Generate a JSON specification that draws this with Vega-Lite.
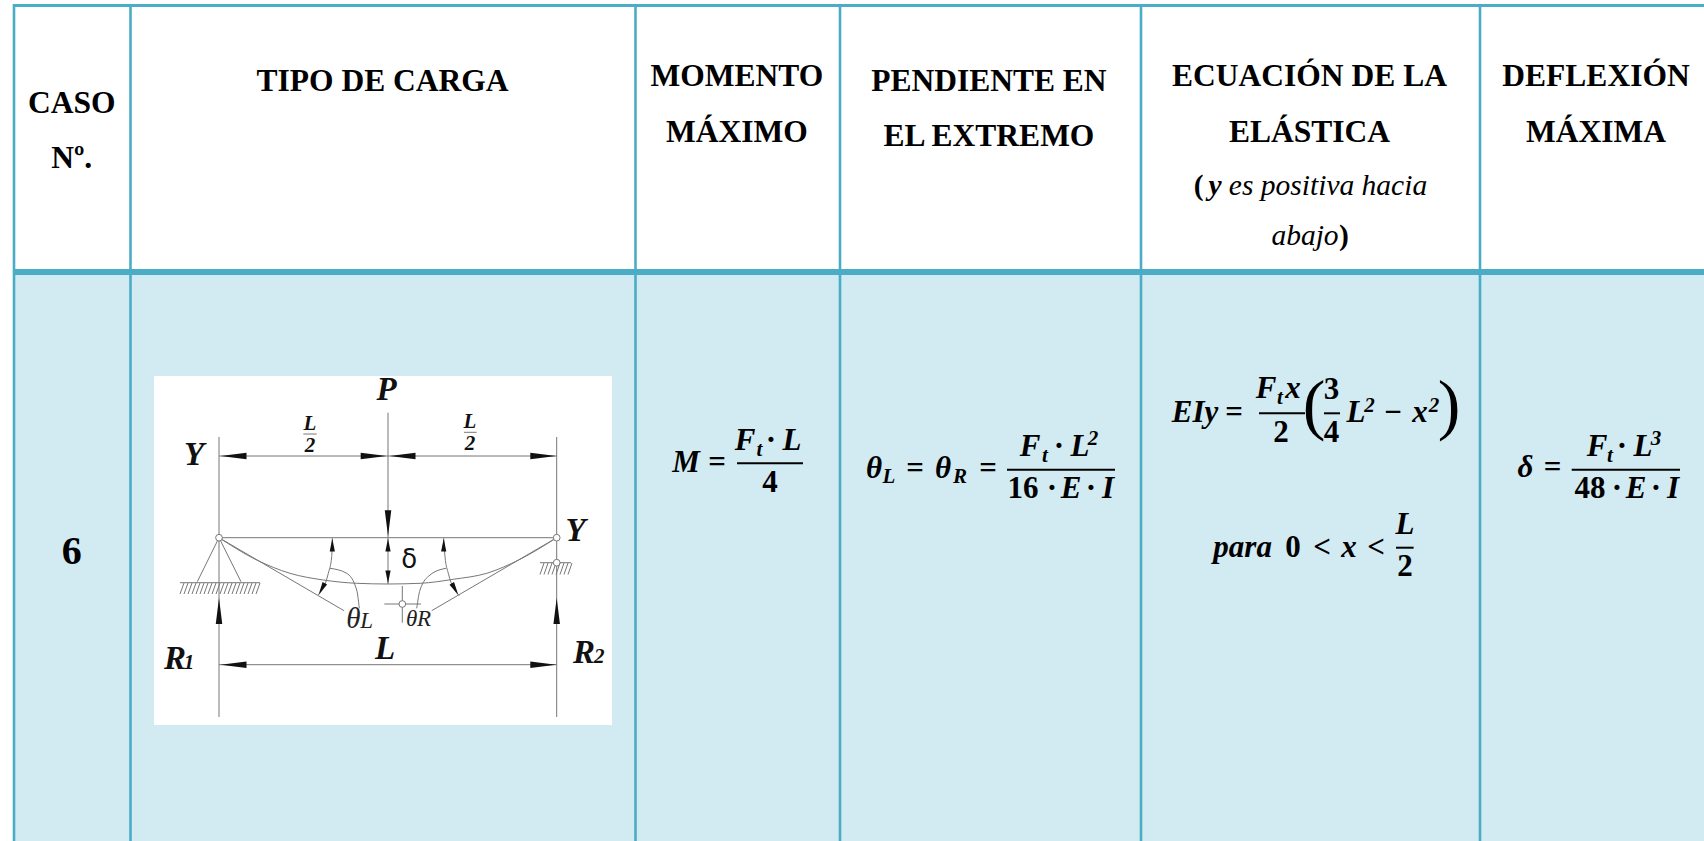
{"$schema":"https://vega.github.io/schema/vega-lite/v6.json","width":1704,"height":841,"padding":0,"autosize":{"type":"none"},"background":"white","config":{"view":{"stroke":null}},
"datasets":{
"fills":[{"k":"row","x":14,"x2":1704,"y":273,"y2":841},{"k":"img","x":154,"x2":612,"y":376,"y2":725}],
"grid":[
{"k":"v","x":14,"x2":14,"y":4,"y2":841},{"k":"v","x":130.5,"x2":130.5,"y":4,"y2":841},{"k":"v","x":635.5,"x2":635.5,"y":4,"y2":841},{"k":"v","x":840,"x2":840,"y":4,"y2":841},{"k":"v","x":1141,"x2":1141,"y":4,"y2":841},{"k":"v","x":1480,"x2":1480,"y":4,"y2":841},
{"k":"top","x":13,"x2":1704,"y":5.5,"y2":5.5},{"k":"head","x":13,"x2":1704,"y":272,"y2":272}],
"lines":[
{"x":219,"x2":219,"y":437,"y2":717},{"x":556.7,"x2":556.7,"y":437,"y2":717},{"x":388,"x2":388,"y":412.7,"y2":584},
{"x":219,"x2":556.7,"y":456,"y2":456},{"x":219,"x2":556.7,"y":537.7,"y2":537.7},{"x":219,"x2":556.7,"y":664.7,"y2":664.7},
{"x":219,"x2":344,"y":537.7,"y2":610.7},{"x":556.7,"x2":431.7,"y":537.7,"y2":610.7},
{"x":219,"x2":197.3,"y":537.7,"y2":581.7},{"x":219,"x2":241,"y":537.7,"y2":581.7},
{"x":180,"x2":260,"y":582.7,"y2":582.7},{"x":540,"x2":571,"y":562.7,"y2":562.7},
{"x":384.3,"x2":421,"y":604,"y2":604},{"x":402.3,"x2":402.3,"y":586,"y2":622.7},
{"x":303.3,"x2":316.7,"y":434,"y2":434},{"x":464,"x2":476.7,"y":432.3,"y2":432.3},
{"x":184,"x2":180,"y":583,"y2":594},{"x":188,"x2":184,"y":583,"y2":594},{"x":192,"x2":188,"y":583,"y2":594},{"x":196,"x2":192,"y":583,"y2":594},{"x":200,"x2":196,"y":583,"y2":594},{"x":204,"x2":200,"y":583,"y2":594},{"x":208,"x2":204,"y":583,"y2":594},{"x":212,"x2":208,"y":583,"y2":594},{"x":216,"x2":212,"y":583,"y2":594},{"x":220,"x2":216,"y":583,"y2":594},{"x":224,"x2":220,"y":583,"y2":594},{"x":228,"x2":224,"y":583,"y2":594},{"x":232,"x2":228,"y":583,"y2":594},{"x":236,"x2":232,"y":583,"y2":594},{"x":240,"x2":236,"y":583,"y2":594},{"x":244,"x2":240,"y":583,"y2":594},{"x":248,"x2":244,"y":583,"y2":594},{"x":252,"x2":248,"y":583,"y2":594},{"x":256,"x2":252,"y":583,"y2":594},{"x":260,"x2":256,"y":583,"y2":594},
{"x":544,"x2":540,"y":563,"y2":574.5},{"x":548,"x2":544,"y":563,"y2":574.5},{"x":552,"x2":548,"y":563,"y2":574.5},{"x":556,"x2":552,"y":563,"y2":574.5},{"x":560,"x2":556,"y":563,"y2":574.5},{"x":564,"x2":560,"y":563,"y2":574.5},{"x":568,"x2":564,"y":563,"y2":574.5},{"x":572,"x2":568,"y":563,"y2":574.5}],
"bars":[
{"x":737,"x2":803,"y":463.3,"y2":463.3},{"x":1007,"x2":1115,"y":469.7,"y2":469.7},{"x":1259,"x2":1305,"y":413.3,"y2":413.3},{"x":1324,"x2":1340,"y":413.3,"y2":413.3},{"x":1396,"x2":1413.6,"y":547.7,"y2":547.7},{"x":1571.7,"x2":1680,"y":469.7,"y2":469.7}],
"curves":[
{"id":"c","i":0,"x":219,"y":537.7},{"id":"c","i":1,"x":256.7,"y":560},{"id":"c","i":2,"x":290,"y":573.3},{"id":"c","i":3,"x":323.3,"y":580},{"id":"c","i":4,"x":356.7,"y":583.3},{"id":"c","i":5,"x":388,"y":584},{"id":"c","i":6,"x":420,"y":583.3},{"id":"c","i":7,"x":453.3,"y":579.3},{"id":"c","i":8,"x":486.7,"y":573.3},{"id":"c","i":9,"x":520,"y":559.3},{"id":"c","i":10,"x":556.7,"y":537.7},
{"id":"al","i":0,"x":332.3,"y":538.3},{"id":"al","i":1,"x":331.7,"y":556.7},{"id":"al","i":2,"x":328.3,"y":573.3},{"id":"al","i":3,"x":318.3,"y":595},
{"id":"ar","i":0,"x":443.7,"y":538.3},{"id":"ar","i":1,"x":445,"y":556.7},{"id":"ar","i":2,"x":448.3,"y":573.3},{"id":"ar","i":3,"x":459.3,"y":595.7},
{"id":"ll","i":0,"x":330,"y":568.3},{"id":"ll","i":1,"x":346.7,"y":573.3},{"id":"ll","i":2,"x":356.7,"y":590},{"id":"ll","i":3,"x":359.3,"y":608.3},
{"id":"lr","i":0,"x":446,"y":568.3},{"id":"lr","i":1,"x":430,"y":575},{"id":"lr","i":2,"x":420,"y":590},{"id":"lr","i":3,"x":416.7,"y":608.3}],
"arrows":[
{"k":"long","x":233.5,"y":456,"dir":270},{"k":"long","x":373.7,"y":456,"dir":90},{"k":"long","x":402.5,"y":456,"dir":270},{"k":"long","x":543.3,"y":456,"dir":90},
{"k":"long","x":233.5,"y":664.7,"dir":270},{"k":"long","x":543.3,"y":664.7,"dir":90},
{"k":"long","x":388,"y":523.3,"dir":180},{"k":"long","x":219,"y":611,"dir":0},{"k":"long","x":556.7,"y":611,"dir":0},
{"k":"short","x":388,"y":545,"dir":0},{"k":"short","x":388,"y":577,"dir":180},{"k":"short","x":332.3,"y":545,"dir":0},{"k":"short","x":443.7,"y":545,"dir":0},{"k":"short","x":321.7,"y":589,"dir":209},{"k":"short","x":455,"y":589,"dir":150}],
"joints":[{"x":219,"y":537.7},{"x":556.7,"y":537.7},{"x":556.7,"y":562.7},{"x":402.3,"y":604}],
"texts":[
{"r":"head","t":"CASO","x":71.7,"y":113},{"r":"head","t":"Nº.","x":71.7,"y":168},{"r":"head","t":"TIPO DE CARGA","x":382.5,"y":91},{"r":"head","t":"MOMENTO","x":736.8,"y":86},{"r":"head","t":"MÁXIMO","x":736.8,"y":142},{"r":"head","t":"PENDIENTE EN","x":988.9,"y":91},{"r":"head","t":"EL EXTREMO","x":988.9,"y":146},{"r":"head","t":"ECUACIÓN DE LA","x":1309.5,"y":86},{"r":"head","t":"ELÁSTICA","x":1309.5,"y":142},{"r":"head","t":"DEFLEXIÓN","x":1596,"y":86},{"r":"head","t":"MÁXIMA","x":1596,"y":142},
{"r":"note","t":"es positiva hacia","x":1328,"y":195},{"r":"note","t":"abajo","x":1305,"y":245},{"r":"noteb","t":"(","x":1198.6,"y":195},{"r":"notebi","t":"y","x":1215,"y":195},{"r":"noteb","t":")","x":1344,"y":245},
{"r":"num","t":"6","x":71.7,"y":564},
{"r":"dbig","t":"P","x":386.7,"y":400},{"r":"dbig","t":"Y","x":194,"y":465},{"r":"dbig","t":"Y","x":575.7,"y":541},{"r":"dbig","t":"L","x":385,"y":659},{"r":"dbig","t":"R","x":175,"y":669.3},{"r":"dbig","t":"R","x":584,"y":663},
{"r":"dsm","t":"L","x":310,"y":429.5},{"r":"dsm","t":"2","x":310,"y":451.7},{"r":"dsm","t":"L","x":470,"y":427.5},{"r":"dsm","t":"2","x":470,"y":449.7},{"r":"dsm","t":"1","x":189,"y":669.3},{"r":"dsm","t":"2","x":599.3,"y":663},
{"r":"delta","t":"δ","x":409.3,"y":568.3},
{"r":"theta","t":"θ","x":353.3,"y":628},{"r":"thetas","t":"L","x":366.7,"y":628},{"r":"thetas","t":"θ","x":411.7,"y":626},{"r":"thetas","t":"R","x":424,"y":626},
{"r":"m","t":"M","x":686,"y":471.7},{"r":"mn","t":"=","x":717,"y":471.7},{"r":"m","t":"F","x":745,"y":450},{"r":"ms","t":"t","x":759.4,"y":456},{"r":"mn","t":"·","x":771,"y":450},{"r":"m","t":"L","x":792,"y":450},{"r":"mn","t":"4","x":770,"y":491.7},
{"r":"m","t":"θ","x":874,"y":478},{"r":"ms","t":"L","x":889,"y":483},{"r":"mn","t":"=","x":915,"y":478},{"r":"m","t":"θ","x":943,"y":478},{"r":"ms","t":"R","x":960,"y":483},{"r":"mn","t":"=","x":988,"y":478},
{"r":"m","t":"F","x":1030,"y":456},{"r":"ms","t":"t","x":1045,"y":462},{"r":"mn","t":"·","x":1059,"y":456},{"r":"m","t":"L","x":1080,"y":456},{"r":"ms","t":"2","x":1093,"y":445},{"r":"mn","t":"16","x":1023,"y":497.7},{"r":"mn","t":"·","x":1052,"y":497.7},{"r":"m","t":"E","x":1071,"y":497.7},{"r":"mn","t":"·","x":1091,"y":497.7},{"r":"m","t":"I","x":1108,"y":497.7},
{"r":"m","t":"EIy","x":1195,"y":421.7},{"r":"mn","t":"=","x":1234,"y":421.7},{"r":"m","t":"F","x":1266,"y":398},{"r":"ms","t":"t","x":1280,"y":404},{"r":"m","t":"x","x":1293,"y":398},{"r":"mn","t":"2","x":1281,"y":441.7},{"r":"paren","t":"(","x":1314,"y":427},{"r":"mn","t":"3","x":1331.5,"y":399},{"r":"mn","t":"4","x":1331.5,"y":441.7},{"r":"m","t":"L","x":1356,"y":421.7},{"r":"ms","t":"2","x":1369.5,"y":411.7},{"r":"mn","t":"−","x":1393,"y":421.7},{"r":"m","t":"x","x":1420,"y":421.7},{"r":"ms","t":"2","x":1434,"y":411.7},{"r":"paren","t":")","x":1449,"y":427},
{"r":"m","t":"para","x":1242.6,"y":556.7},{"r":"mn","t":"0","x":1293,"y":556.7},{"r":"mn","t":"<","x":1322,"y":556.7},{"r":"m","t":"x","x":1349,"y":556.7},{"r":"mn","t":"<","x":1376,"y":556.7},{"r":"m","t":"L","x":1405,"y":534},{"r":"mn","t":"2","x":1405,"y":576},
{"r":"m","t":"δ","x":1525.5,"y":476.7},{"r":"mn","t":"=","x":1552.7,"y":476.7},{"r":"m","t":"F","x":1597,"y":456},{"r":"ms","t":"t","x":1610,"y":462},{"r":"mn","t":"·","x":1622,"y":456},{"r":"m","t":"L","x":1643,"y":456},{"r":"ms","t":"3","x":1656,"y":445},{"r":"mn","t":"48","x":1590,"y":497.7},{"r":"mn","t":"·","x":1617,"y":497.7},{"r":"m","t":"E","x":1636,"y":497.7},{"r":"mn","t":"·","x":1656,"y":497.7},{"r":"m","t":"I","x":1673,"y":497.7}]
},
"encoding":{"x":{"field":"x","type":"quantitative","axis":null,"scale":{"domain":[0,1704],"nice":false,"zero":false}},"y":{"field":"y","type":"quantitative","axis":null,"scale":{"domain":[841,0],"nice":false,"zero":false}}},
"layer":[
{"data":{"name":"fills"},"transform":[{"filter":"datum.k=='row'"}],"mark":{"type":"rect","fill":"#D2EAF1"},"encoding":{"x2":{"field":"x2"},"y2":{"field":"y2"}}},
{"data":{"name":"fills"},"transform":[{"filter":"datum.k=='img'"}],"mark":{"type":"rect","fill":"#FFFFFF"},"encoding":{"x2":{"field":"x2"},"y2":{"field":"y2"}}},
{"data":{"name":"grid"},"transform":[{"filter":"datum.k=='v'"}],"mark":{"type":"rule","color":"#4BACC6","strokeWidth":2.6},"encoding":{"x2":{"field":"x2"},"y2":{"field":"y2"}}},
{"data":{"name":"grid"},"transform":[{"filter":"datum.k=='top'"}],"mark":{"type":"rule","color":"#4BACC6","strokeWidth":3},"encoding":{"x2":{"field":"x2"},"y2":{"field":"y2"}}},
{"data":{"name":"grid"},"transform":[{"filter":"datum.k=='head'"}],"mark":{"type":"rule","color":"#4BACC6","strokeWidth":6},"encoding":{"x2":{"field":"x2"},"y2":{"field":"y2"}}},
{"data":{"name":"lines"},"mark":{"type":"rule","color":"#777777","strokeWidth":1},"encoding":{"x2":{"field":"x2"},"y2":{"field":"y2"}}},
{"data":{"name":"curves"},"mark":{"type":"line","color":"#777777","strokeWidth":1,"interpolate":"monotone"},"encoding":{"detail":{"field":"id"},"order":{"field":"i"}}},
{"data":{"name":"arrows"},"transform":[{"filter":"datum.k=='long'"}],"mark":{"type":"point","shape":"M0,-1L0.25,1L-0.25,1Z","filled":true,"color":"#111111","size":676,"opacity":1},"encoding":{"angle":{"field":"dir","type":"quantitative","scale":null}}},
{"data":{"name":"arrows"},"transform":[{"filter":"datum.k=='short'"}],"mark":{"type":"point","shape":"M0,-1L0.4,1L-0.4,1Z","filled":true,"color":"#111111","size":169,"opacity":1},"encoding":{"angle":{"field":"dir","type":"quantitative","scale":null}}},
{"data":{"name":"joints"},"mark":{"type":"point","shape":"circle","filled":true,"fill":"#FFFFFF","stroke":"#777777","strokeWidth":1,"size":45,"opacity":1}},
{"data":{"name":"bars"},"mark":{"type":"rule","color":"#000000","strokeWidth":2},"encoding":{"x2":{"field":"x2"},"y2":{"field":"y2"}}},
{"data":{"name":"texts"},"transform":[{"filter":"datum.r=='head'"}],"mark":{"type":"text","font":"Liberation Serif","fontWeight":"bold","fontSize":31.5,"align":"center","baseline":"alphabetic","color":"#000000"},"encoding":{"text":{"field":"t"}}},
{"data":{"name":"texts"},"transform":[{"filter":"datum.r=='note'"}],"mark":{"type":"text","font":"Liberation Serif","fontStyle":"italic","fontSize":29.5,"align":"center","baseline":"alphabetic","color":"#000000"},"encoding":{"text":{"field":"t"}}},
{"data":{"name":"texts"},"transform":[{"filter":"datum.r=='noteb'"}],"mark":{"type":"text","font":"Liberation Serif","fontWeight":"bold","fontSize":29.5,"align":"center","baseline":"alphabetic","color":"#000000"},"encoding":{"text":{"field":"t"}}},
{"data":{"name":"texts"},"transform":[{"filter":"datum.r=='notebi'"}],"mark":{"type":"text","font":"Liberation Serif","fontWeight":"bold","fontStyle":"italic","fontSize":29.5,"align":"center","baseline":"alphabetic","color":"#000000"},"encoding":{"text":{"field":"t"}}},
{"data":{"name":"texts"},"transform":[{"filter":"datum.r=='num'"}],"mark":{"type":"text","font":"Liberation Serif","fontWeight":"bold","fontSize":40,"align":"center","baseline":"alphabetic","color":"#000000"},"encoding":{"text":{"field":"t"}}},
{"data":{"name":"texts"},"transform":[{"filter":"datum.r=='dbig'"}],"mark":{"type":"text","font":"Liberation Serif","fontWeight":"bold","fontStyle":"italic","fontSize":33,"align":"center","baseline":"alphabetic","color":"#111111"},"encoding":{"text":{"field":"t"}}},
{"data":{"name":"texts"},"transform":[{"filter":"datum.r=='dsm'"}],"mark":{"type":"text","font":"Liberation Serif","fontWeight":"bold","fontStyle":"italic","fontSize":21,"align":"center","baseline":"alphabetic","color":"#111111"},"encoding":{"text":{"field":"t"}}},
{"data":{"name":"texts"},"transform":[{"filter":"datum.r=='delta'"}],"mark":{"type":"text","font":"DejaVu Sans","fontSize":26,"align":"center","baseline":"alphabetic","color":"#111111"},"encoding":{"text":{"field":"t"}}},
{"data":{"name":"texts"},"transform":[{"filter":"datum.r=='theta'"}],"mark":{"type":"text","font":"Liberation Serif","fontStyle":"italic","fontSize":29,"align":"center","baseline":"alphabetic","color":"#222222"},"encoding":{"text":{"field":"t"}}},
{"data":{"name":"texts"},"transform":[{"filter":"datum.r=='thetas'"}],"mark":{"type":"text","font":"Liberation Serif","fontStyle":"italic","fontSize":23,"align":"center","baseline":"alphabetic","color":"#222222"},"encoding":{"text":{"field":"t"}}},
{"data":{"name":"texts"},"transform":[{"filter":"datum.r=='m'"}],"mark":{"type":"text","font":"Liberation Serif","fontWeight":"bold","fontStyle":"italic","fontSize":31,"align":"center","baseline":"alphabetic","color":"#000000"},"encoding":{"text":{"field":"t"}}},
{"data":{"name":"texts"},"transform":[{"filter":"datum.r=='mn'"}],"mark":{"type":"text","font":"Liberation Serif","fontWeight":"bold","fontSize":31,"align":"center","baseline":"alphabetic","color":"#000000"},"encoding":{"text":{"field":"t"}}},
{"data":{"name":"texts"},"transform":[{"filter":"datum.r=='ms'"}],"mark":{"type":"text","font":"Liberation Serif","fontWeight":"bold","fontStyle":"italic","fontSize":21,"align":"center","baseline":"alphabetic","color":"#000000"},"encoding":{"text":{"field":"t"}}},
{"data":{"name":"texts"},"transform":[{"filter":"datum.r=='paren'"}],"mark":{"type":"text","font":"Liberation Serif","fontSize":68,"align":"center","baseline":"alphabetic","color":"#000000"},"encoding":{"text":{"field":"t"}}}
]}
